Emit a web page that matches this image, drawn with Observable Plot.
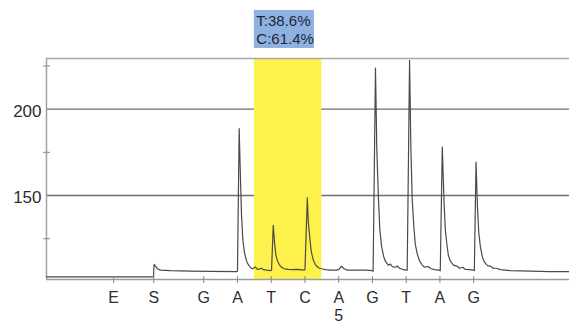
<!DOCTYPE html>
<html><head><meta charset="utf-8">
<script src="https://cdn.jsdelivr.net/npm/d3@7"></script>
<script src="https://cdn.jsdelivr.net/npm/@observablehq/plot@0.6"></script>
<style>html,body{margin:0;padding:0;background:#fff;overflow:hidden}</style>
</head><body><div id="chart"></div>
<script>
// Dispensation order and their positions on the time axis
const dispensations = ["E","S","G","A","T","C","A","G","T","A","G"];
const dispPositions = [-1.67,-0.48,1,2,3,4,5,6,7,8,9];
const numberedPositions = [5];
const numberedLabels = ["5"];

// Pyrogram trace
const traceTime = [
  -3.66,-0.49,-0.47,-0.43,-0.37,-0.28,0.02,0.61,1.20,1.97,
  2.00,2.05,2.09,2.12,2.16,2.21,2.27,2.33,2.39,2.45,2.53,2.59,2.65,2.71,2.77,2.86,2.98,
  3.01,3.06,3.10,3.14,3.19,3.25,3.30,3.39,3.51,3.63,3.75,3.87,3.97,
  4.00,4.07,4.10,4.15,4.19,4.25,4.31,4.40,4.49,4.61,4.75,4.93,
  5.01,5.08,5.16,5.26,5.41,5.59,5.79,5.99,
  6.02,6.09,6.13,6.18,6.22,6.27,6.33,6.39,6.47,6.53,6.59,6.68,6.74,6.80,6.89,6.99,
  7.03,7.10,7.14,7.18,7.23,7.27,7.33,7.39,7.47,7.54,7.60,7.66,7.74,7.84,7.97,
  8.01,8.07,8.12,8.16,8.21,8.25,8.31,8.40,8.51,8.58,8.67,8.75,8.87,8.99,
  9.02,9.07,9.11,9.15,9.20,9.26,9.32,9.41,9.50,9.58,9.67,9.79,10.09,10.68,11.27,11.84
];
const traceSignal = [
  102.9,102.9,110.2,109.1,107.6,106.8,106.5,106.2,106.1,105.9,
  106.2,188.7,158.8,138.6,124.1,116.6,112.0,109.7,108.2,107.6,108.7,107.3,107.5,107.9,107.1,106.8,106.5,
  106.8,132.8,122.4,115.4,112.0,109.7,108.5,107.6,107.3,107.1,107.3,107.1,106.8,
  107.1,148.6,134.5,124.1,117.2,112.5,109.9,108.2,107.6,107.1,106.8,106.8,
  107.3,109.1,107.6,106.8,106.8,106.8,106.8,106.5,
  106.2,223.7,176.1,147.2,129.9,120.6,114.9,111.7,109.7,110.3,108.8,108.5,109.2,107.9,107.3,106.8,
  106.8,228.2,176.1,147.2,131.0,121.8,116.0,112.5,109.9,108.5,108.8,108.8,107.6,107.1,106.8,
  106.5,178.0,147.2,129.9,121.2,115.4,112.0,109.7,109.1,107.9,108.5,107.3,107.1,106.8,
  106.5,169.4,144.3,128.7,120.1,114.3,111.4,109.4,109.1,107.9,107.9,107.1,106.5,106.2,105.9,105.9
];

// Axis ticks
const yTicks = [150, 200];
const yMinorTicks = [125, 175, 225];

// Highlighted variable position and its allele quantification
const highlightStart = [2.5];
const highlightEnd = [4.5];
const alleleLabels = ["T:38.6%", "C:61.4%"];

const xDomain = [-3.66, 11.84];
const yDomain = [101.4, 229.3];

const trace = traceTime.map((t, i) => ({t, s: traceSignal[i]}));
const band = highlightStart.map((a, i) => ({x1: a, x2: highlightEnd[i]}));
const labelByPos = new Map(dispPositions.map((p, i) => [p, dispensations[i]]));
numberedPositions.forEach((p, i) => labelByPos.set(p, labelByPos.get(p) + "\n" + numberedLabels[i]));

const chart = Plot.plot({
  width: 569,
  height: 323,
  marginTop: 58,
  marginBottom: 44,
  marginLeft: 46,
  marginRight: 0,
  style: {fontFamily: "'Liberation Sans', Arial, sans-serif", background: "#fff", color: "#333", overflow: "visible"},
  x: {domain: xDomain, label: null},
  y: {domain: yDomain, label: null},
  marks: [
    Plot.ruleY(yTicks, {stroke: "#6e6e6e", strokeWidth: 1.4}),
    Plot.rect(band, {x1: "x1", x2: "x2", fill: "#fff14c"}),
    Plot.ruleY([yDomain[1]], {stroke: "#a8a8a8", strokeWidth: 1.5}),
    Plot.ruleX([xDomain[0]], {stroke: "#a0a0a0", strokeWidth: 1.5}),
    Plot.ruleY([yDomain[0]], {stroke: "#9a9a9a", strokeWidth: 1.5}),
    Plot.line(trace, {x: "t", y: "s", stroke: "#4a4a4a", strokeWidth: 1.2}),
    Plot.axisY({ticks: yTicks, tickSize: 0, tickPadding: 5, dy: 2, fontSize: 17, fill: "#2e2e2e", label: null}),
    Plot.axisY({ticks: yMinorTicks, tickSize: 7, dx: 4, tickFormat: () => "", stroke: "#888", label: null}),
    Plot.axisX({ticks: dispPositions, tickFormat: d => labelByPos.get(d), tickSize: 7, dy: -3, tickPadding: 7, fontSize: 16, lineHeight: 1.12, stroke: "#888", fill: "#2e2e2e", label: null}),
    Plot.rect(band, {x1: "x1", x2: d => d.x1 + 1.78, y1: 235.1, y2: 257.1, fill: "#8fb1e2"}),
    Plot.text([alleleLabels.join("\n")], {x: highlightStart[0], y: 246.1, textAnchor: "start", dx: 2, fontSize: 15, lineHeight: 1.15, fill: "#1b2636"})
  ]
});
document.getElementById("chart").appendChild(chart);
</script>
</body></html>
